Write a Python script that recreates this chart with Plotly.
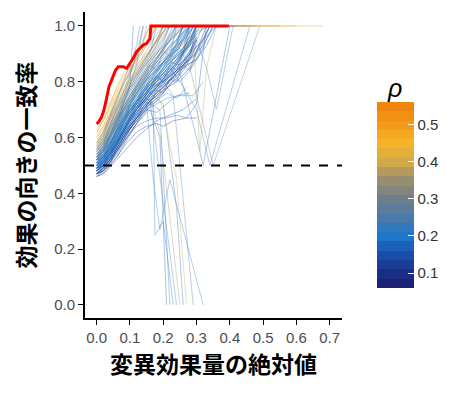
import plotly.graph_objects as go
from plotly.colors import sample_colorscale

# ---- colour scale for rho ----
RHO_MIN, RHO_MAX = 0.06, 0.56
SCALE_RHO = [0.06, 0.10, 0.15, 0.20, 0.25, 0.30, 0.35, 0.40, 0.45, 0.50, 0.56]
SCALE_COL = ["#1B1B6E", "#1A2F85", "#1A4FAA", "#1E78CC", "#4A7AA8", "#727E8A",
             "#9A8E6E", "#D4AA48", "#F7B526", "#F39A17", "#EE7F0A"]
N_BANDS = 20

# ---- individual curves ----
GOLD_RHO = [0.45, 0.42, 0.50, 0.38, 0.40, 0.36, 0.48, 0.44, 0.37, 0.41]
GOLD_X = [
    [0, 0.02, 0.04, 0.06, 0.08, 0.10, 0.12, 0.14, 0.16, 0.18, 0.30],
    [0, 0.02, 0.04, 0.06, 0.08, 0.10, 0.12, 0.15, 0.18, 0.21, 0.38],
    [0, 0.02, 0.04, 0.06, 0.08, 0.10, 0.13, 0.16, 0.19, 0.22, 0.55],
    [0, 0.02, 0.04, 0.06, 0.08, 0.10, 0.13, 0.16, 0.20, 0.24, 0.45],
    [0, 0.03, 0.05, 0.07, 0.09, 0.12, 0.15, 0.18, 0.22, 0.26, 0.68],
    [0, 0.02, 0.04, 0.07, 0.10, 0.13, 0.16, 0.19, 0.23, 0.27],
    [0, 0.02, 0.05, 0.08, 0.11, 0.14, 0.17, 0.20, 0.60],
    [0, 0.03, 0.05, 0.07, 0.09, 0.11, 0.13, 0.15, 0.17],
    [0, 0.03, 0.06, 0.09, 0.12, 0.15, 0.19, 0.23, 0.28, 0.32],
    [0, 0.03, 0.06, 0.09, 0.12, 0.16, 0.20, 0.25, 0.30, 0.34],
]
GOLD_Y = [
    [0.63, 0.66, 0.72, 0.78, 0.82, 0.85, 0.88, 0.92, 0.95, 1.0, 1.0],
    [0.61, 0.64, 0.69, 0.75, 0.79, 0.83, 0.86, 0.90, 0.94, 1.0, 1.0],
    [0.60, 0.63, 0.68, 0.73, 0.78, 0.81, 0.86, 0.91, 0.96, 1.0, 1.0],
    [0.58, 0.61, 0.66, 0.71, 0.76, 0.80, 0.84, 0.88, 0.93, 1.0, 1.0],
    [0.57, 0.62, 0.67, 0.72, 0.77, 0.80, 0.84, 0.90, 0.95, 1.0, 1.0],
    [0.55, 0.58, 0.63, 0.69, 0.75, 0.80, 0.85, 0.90, 0.96, 1.0],
    [0.59, 0.62, 0.69, 0.76, 0.82, 0.87, 0.92, 1.0, 1.0],
    [0.62, 0.68, 0.74, 0.79, 0.83, 0.86, 0.90, 0.93, 1.0],
    [0.52, 0.57, 0.64, 0.70, 0.76, 0.81, 0.85, 0.90, 0.96, 1.0],
    [0.49, 0.53, 0.60, 0.67, 0.72, 0.78, 0.83, 0.89, 0.98, 1.0],
]

BLUE_RHO = [0.20, 0.18, 0.22, 0.16, 0.25, 0.19, 0.21, 0.17, 0.23, 0.15,
            0.24, 0.20, 0.18, 0.26, 0.14, 0.22, 0.19, 0.27, 0.21, 0.17,
            0.30, 0.23, 0.33, 0.10, 0.08, 0.12]
BLUE_X = [
    [0, 0.02, 0.04, 0.06, 0.08, 0.10, 0.12, 0.14, 0.16, 0.18, 0.21, 0.25, 0.28],
    [0, 0.02, 0.04, 0.06, 0.08, 0.10, 0.12, 0.14, 0.17, 0.20, 0.23, 0.27, 0.31],
    [0, 0.02, 0.04, 0.06, 0.08, 0.10, 0.12, 0.14, 0.16, 0.19, 0.22, 0.25],
    [0, 0.02, 0.04, 0.06, 0.08, 0.10, 0.12, 0.14, 0.17, 0.20, 0.24, 0.28, 0.32, 0.35],
    [0, 0.02, 0.04, 0.06, 0.08, 0.10, 0.12, 0.14, 0.16, 0.18, 0.21],
    [0, 0.03, 0.05, 0.07, 0.09, 0.11, 0.13, 0.15, 0.17, 0.19, 0.22, 0.26, 0.30, 0.33],
    [0, 0.02, 0.04, 0.06, 0.08, 0.10, 0.12, 0.14, 0.16, 0.18, 0.20, 0.23, 0.26],
    [0, 0.02, 0.04, 0.06, 0.08, 0.10, 0.12, 0.14, 0.16, 0.19, 0.22, 0.26, 0.30, 0.34],
    [0, 0.02, 0.04, 0.06, 0.08, 0.10, 0.12, 0.14, 0.16, 0.18, 0.20, 0.23, 0.26, 0.42],
    [0, 0.02, 0.04, 0.06, 0.08, 0.10, 0.12, 0.14, 0.16, 0.18, 0.21, 0.24, 0.28, 0.31, 0.36],
    [0, 0.02, 0.04, 0.06, 0.08, 0.10, 0.12, 0.14, 0.16, 0.18],
    [0, 0.03, 0.05, 0.07, 0.09, 0.11, 0.13, 0.15, 0.17, 0.19, 0.21, 0.24, 0.27],
    [0, 0.02, 0.04, 0.06, 0.08, 0.10, 0.12, 0.14, 0.16, 0.18, 0.20, 0.22, 0.25, 0.28, 0.32],
    [0, 0.02, 0.04, 0.06, 0.08, 0.10, 0.12, 0.14, 0.16, 0.18, 0.20, 0.22, 0.40],
    [0, 0.02, 0.04, 0.06, 0.08, 0.10, 0.12, 0.14, 0.16, 0.18, 0.21, 0.24, 0.27, 0.30, 0.33, 0.36],
    [0, 0.02, 0.04, 0.06, 0.08, 0.10, 0.12, 0.14, 0.16, 0.18, 0.20, 0.22, 0.24, 0.27, 0.29],
    [0, 0.02, 0.04, 0.06, 0.08, 0.10, 0.12, 0.14, 0.16, 0.18, 0.20, 0.23, 0.26, 0.29],
    [0, 0.02, 0.04, 0.06, 0.08, 0.10, 0.12, 0.14, 0.16, 0.18, 0.20, 0.23, 0.48],
    [0, 0.02, 0.04, 0.06, 0.08, 0.10, 0.12, 0.14, 0.16, 0.18, 0.20, 0.22, 0.25, 0.28, 0.30],
    [0, 0.02, 0.04, 0.06, 0.08, 0.10, 0.12, 0.14, 0.16, 0.18, 0.20, 0.22, 0.25, 0.28, 0.31, 0.35],
    [0, 0.03, 0.06, 0.08, 0.10, 0.12, 0.14],
    [0, 0.03, 0.06, 0.08, 0.10, 0.11],
    [0, 0.03, 0.05, 0.08, 0.10, 0.12, 0.14, 0.15],
    [0, 0.02, 0.04, 0.06, 0.08, 0.10, 0.12, 0.14, 0.16, 0.18, 0.20, 0.23, 0.26, 0.30, 0.34],
    [0, 0.02, 0.04, 0.06, 0.08, 0.10, 0.12, 0.14, 0.17, 0.20, 0.24, 0.28, 0.33],
    [0, 0.02, 0.04, 0.06, 0.08, 0.10, 0.12, 0.14, 0.16, 0.19, 0.22, 0.25, 0.29],
]
BLUE_Y = [
    [0.52, 0.54, 0.58, 0.63, 0.68, 0.72, 0.76, 0.79, 0.83, 0.87, 0.91, 0.96, 1.0],
    [0.50, 0.52, 0.56, 0.60, 0.65, 0.69, 0.73, 0.76, 0.80, 0.84, 0.88, 0.92, 1.0],
    [0.54, 0.57, 0.61, 0.66, 0.71, 0.75, 0.79, 0.82, 0.86, 0.90, 0.95, 1.0],
    [0.48, 0.50, 0.53, 0.57, 0.62, 0.66, 0.70, 0.73, 0.77, 0.80, 0.84, 0.88, 0.93, 1.0],
    [0.55, 0.58, 0.63, 0.68, 0.73, 0.77, 0.81, 0.85, 0.89, 0.93, 1.0],
    [0.51, 0.55, 0.60, 0.65, 0.69, 0.74, 0.78, 0.81, 0.83, 0.86, 0.88, 0.92, 0.97, 1.0],
    [0.49, 0.51, 0.55, 0.61, 0.66, 0.71, 0.74, 0.77, 0.81, 0.84, 0.87, 0.91, 1.0],
    [0.47, 0.49, 0.52, 0.56, 0.60, 0.64, 0.68, 0.72, 0.75, 0.78, 0.82, 0.86, 0.90, 1.0],
    [0.53, 0.55, 0.60, 0.64, 0.69, 0.73, 0.77, 0.81, 0.84, 0.88, 0.92, 0.96, 1.0, 1.0],
    [0.50, 0.52, 0.55, 0.58, 0.62, 0.67, 0.71, 0.74, 0.77, 0.79, 0.81, 0.85, 0.90, 0.94, 1.0],
    [0.56, 0.59, 0.64, 0.70, 0.74, 0.78, 0.82, 0.86, 0.90, 1.0],
    [0.48, 0.51, 0.55, 0.60, 0.65, 0.70, 0.74, 0.78, 0.82, 0.85, 0.89, 0.93, 1.0],
    [0.52, 0.53, 0.57, 0.62, 0.66, 0.70, 0.72, 0.75, 0.78, 0.82, 0.85, 0.87, 0.86, 0.90, 1.0],
    [0.54, 0.56, 0.61, 0.67, 0.72, 0.76, 0.80, 0.84, 0.88, 0.91, 0.95, 1.0, 1.0],
    [0.46, 0.48, 0.51, 0.55, 0.59, 0.63, 0.67, 0.70, 0.73, 0.76, 0.79, 0.83, 0.86, 0.88, 0.93, 1.0],
    [0.51, 0.53, 0.58, 0.63, 0.67, 0.72, 0.75, 0.79, 0.82, 0.85, 0.87, 0.90, 0.93, 0.96, 1.0],
    [0.49, 0.52, 0.56, 0.59, 0.64, 0.68, 0.72, 0.76, 0.80, 0.83, 0.86, 0.90, 0.94, 1.0],
    [0.53, 0.57, 0.62, 0.66, 0.70, 0.74, 0.78, 0.83, 0.87, 0.90, 0.93, 1.0, 1.0],
    [0.50, 0.53, 0.57, 0.62, 0.67, 0.70, 0.73, 0.77, 0.80, 0.82, 0.84, 0.87, 0.91, 0.95, 1.0],
    [0.48, 0.50, 0.54, 0.58, 0.63, 0.67, 0.70, 0.74, 0.78, 0.80, 0.83, 0.85, 0.80, 0.84, 0.90, 1.0],
    [0.52, 0.58, 0.67, 0.74, 0.82, 0.90, 1.0],
    [0.50, 0.56, 0.65, 0.72, 0.79, 1.0],
    [0.55, 0.61, 0.68, 0.76, 0.83, 0.89, 0.94, 1.0],
    [0.47, 0.48, 0.51, 0.55, 0.59, 0.63, 0.66, 0.70, 0.73, 0.75, 0.78, 0.82, 0.86, 0.91, 1.0],
    [0.48, 0.50, 0.52, 0.56, 0.60, 0.63, 0.67, 0.71, 0.74, 0.77, 0.80, 0.85, 1.0],
    [0.49, 0.51, 0.54, 0.58, 0.62, 0.66, 0.70, 0.73, 0.76, 0.80, 0.84, 0.88, 1.0],
]

# dense core: values on a shared threshold grid (a curve stops where its list stops)
CORE_X = [0, 0.02, 0.04, 0.06, 0.08, 0.10, 0.12, 0.14, 0.16, 0.18,
          0.20, 0.22, 0.24, 0.26, 0.28, 0.30]
CORE_RHO = [0.20, 0.22, 0.18, 0.25, 0.15, 0.21, 0.19, 0.23, 0.17, 0.26,
            0.12, 0.20, 0.28, 0.16, 0.22, 0.10, 0.24, 0.19, 0.32, 0.35,
            0.43, 0.39, 0.21, 0.18, 0.14, 0.23, 0.20, 0.27, 0.17, 0.46,
            0.11, 0.22, 0.30, 0.19, 0.25, 0.13, 0.21, 0.16, 0.24, 0.20,
            0.21, 0.24, 0.17]
CORE_Y = [
    [.47, .49, .53, .57, .62, .66, .69, .73, .76, .78, .81, .84, .86, .89, .93, 1.0],
    [.50, .53, .58, .63, .67, .71, .75, .78, .80, .83, .87, .90, .94, 1.0],
    [.49, .50, .54, .59, .63, .68, .72, .74, .77, .80, .82, .85, .88, .92, 1.0],
    [.53, .56, .61, .66, .71, .75, .79, .83, .87, .90, .94, 1.0],
    [.47, .48, .51, .55, .59, .63, .66, .69, .72, .74, .76, .79, .81, .84, .88, .93],
    [.51, .54, .59, .64, .69, .73, .76, .79, .83, .86, .89, .92, .95, 1.0],
    [.48, .51, .55, .60, .65, .69, .72, .76, .79, .81, .83, .86, .90, .95, 1.0],
    [.52, .55, .60, .66, .70, .74, .78, .82, .85, .88, .92, .97, 1.0],
    [.50, .51, .54, .58, .62, .66, .70, .73, .75, .78, .81, .83, .85, .88, .91, .95],
    [.55, .58, .63, .68, .73, .78, .82, .86, .89, .93, 1.0],
    [.46, .47, .50, .53, .57, .61, .65, .68, .71, .73, .76, .79, .82, .85, .89, 1.0],
    [.49, .52, .57, .61, .66, .70, .74, .77, .81, .84, .87, .89, .92, .96, 1.0],
    [.56, .59, .65, .70, .75, .79, .83, .87, .91, .95, 1.0],
    [.48, .50, .53, .57, .61, .65, .69, .72, .75, .78, .80, .82, .84, .87, .90, .94],
    [.52, .54, .58, .63, .68, .72, .76, .80, .83, .86, .88, .91, .93, .97, 1.0],
    [.47, .48, .51, .54, .58, .62, .65, .69, .72, .74, .77, .80, .83, .86, .90, .95],
    [.51, .55, .60, .65, .70, .74, .78, .81, .84, .88, .91, .95, 1.0],
    [.50, .52, .56, .60, .64, .68, .71, .74, .78, .81, .84, .87, .89, .92, .96, 1.0],
    [.57, .61, .67, .72, .77, .81, .85, .89, .93, .97, 1.0],
    [.58, .62, .68, .74, .79, .83, .87, .91, .95, 1.0],
    [.60, .64, .70, .76, .80, .84, .88, .92, .96, 1.0],
    [.56, .60, .66, .71, .76, .80, .84, .88, .91, .95, 1.0],
    [.49, .51, .55, .59, .64, .67, .71, .74, .77, .79, .82, .85, .88, .91, .93, .97],
    [.51, .53, .56, .61, .65, .69, .73, .76, .79, .82, .85, .88, .91, .95, 1.0],
    [.48, .49, .52, .56, .60, .64, .68, .71, .74, .77, .80, .83, .86, .90, .94, 1.0],
    [.53, .57, .62, .67, .71, .75, .79, .82, .86, .89, .92, .96, 1.0],
    [.50, .52, .56, .61, .65, .69, .73, .75, .78, .80, .82, .84, .87, .90, .94, .97],
    [.54, .57, .63, .68, .72, .77, .81, .85, .88, .92, .96, 1.0],
    [.49, .51, .54, .58, .63, .67, .70, .74, .77, .80, .83, .86, .88, .90, .93, .96],
    [.62, .66, .72, .78, .83, .87, .90, .94, 1.0],
    [.47, .49, .52, .56, .60, .64, .67, .70, .73, .76, .78, .81, .84, .87, .91, .96],
    [.51, .53, .57, .62, .67, .71, .74, .78, .82, .85, .87, .89, .92, .95, .98, 1.0],
    [.54, .58, .64, .69, .74, .79, .83, .87, .91, .95, .98, 1.0],
    [.48, .50, .54, .59, .63, .67, .71, .75, .78, .81, .85, .88, .92, .96, 1.0],
    [.52, .55, .60, .64, .69, .73, .77, .81, .84, .87, .90, .93, .97, 1.0],
    [.49, .50, .53, .57, .61, .65, .69, .72, .75, .78, .81, .84, .87, .91, .95, 1.0],
    [.50, .53, .57, .62, .66, .70, .73, .77, .80, .82, .80, .83, .86, .90, .95, 1.0],
    [.47, .49, .52, .56, .60, .64, .67, .71, .74, .76, .79, .82, .84, .86, .89, .93],
    [.53, .56, .61, .65, .70, .74, .77, .80, .84, .87, .90, .93, .95, .98, 1.0],
    [.49, .51, .55, .60, .65, .69, .72, .76, .79, .82, .85, .89, .93, 1.0],
    [.50, .53, .56, .62, .65, .71, .73, .78, .76, .82, .80, .86, .84, .90, 1.0],
    [.53, .55, .61, .64, .70, .72, .78, .80, .86, .84, .91, .89, 1.0],
    [.48, .51, .53, .58, .61, .66, .68, .73, .72, .77, .76, .81, .80, .86, .84, .90],
]

# lower, flattening curves
LOW_RHO = [0.18, 0.20, 0.15, 0.22, 0.25, 0.12, 0.19, 0.28, 0.33, 0.20]
LOW_X = [
    [0, 0.03, 0.06, 0.09, 0.12, 0.15, 0.18, 0.21, 0.24, 0.27, 0.30, 0.33],
    [0, 0.03, 0.06, 0.09, 0.12, 0.15, 0.18, 0.21, 0.25, 0.29, 0.32],
    [0, 0.03, 0.06, 0.09, 0.12, 0.15, 0.18, 0.22, 0.26, 0.30],
    [0, 0.03, 0.06, 0.09, 0.12, 0.15, 0.18, 0.21, 0.24, 0.27],
    [0, 0.03, 0.06, 0.09, 0.12, 0.15, 0.17, 0.20, 0.23, 0.26, 0.30, 0.34],
    [0, 0.03, 0.06, 0.09, 0.12, 0.15, 0.18, 0.20, 0.23, 0.27, 0.30],
    [0, 0.03, 0.06, 0.09, 0.12, 0.15, 0.18, 0.21, 0.24, 0.28],
    [0, 0.02, 0.04, 0.06, 0.08, 0.10, 0.12, 0.13],
    [0, 0.02, 0.04, 0.06, 0.08, 0.10, 0.12, 0.14, 0.16],
    [0, 0.03, 0.06, 0.09, 0.12, 0.14],
]
LOW_Y = [
    [0.47, 0.50, 0.55, 0.60, 0.64, 0.66, 0.67, 0.67, 0.68, 0.67, 0.72, 1.0],
    [0.48, 0.52, 0.57, 0.62, 0.66, 0.70, 0.72, 0.74, 0.75, 0.75, 0.80],
    [0.46, 0.48, 0.52, 0.56, 0.60, 0.63, 0.66, 0.68, 0.70, 0.74],
    [0.50, 0.54, 0.59, 0.63, 0.67, 0.71, 0.73, 0.76, 0.74, 0.78],
    [0.51, 0.56, 0.62, 0.68, 0.73, 0.76, 0.79, 0.78, 0.82, 0.85, 0.88, 1.0],
    [0.47, 0.49, 0.53, 0.58, 0.62, 0.64, 0.65, 0.64, 0.66, 0.67, 0.67],
    [0.49, 0.53, 0.58, 0.63, 0.67, 0.70, 0.69, 0.72, 0.75, 0.76],
    [0.56, 0.60, 0.67, 0.73, 0.80, 0.86, 0.93, 1.0],
    [0.58, 0.62, 0.68, 0.74, 0.79, 0.84, 0.89, 0.95, 1.0],
    [0.52, 0.58, 0.66, 0.75, 0.86, 1.0],
]

# curves that collapse towards 0 or dip back to 0.5
DROP_RHO = [0.20, 0.18, 0.24, 0.36, 0.21, 0.16, 0.22, 0.40, 0.19,
            0.22, 0.30, 0.18, 0.38, 0.24]
DROP_X = [
    [0, 0.04, 0.08, 0.12, 0.16, 0.19, 0.22],
    [0, 0.04, 0.08, 0.12, 0.16, 0.20, 0.24, 0.26],
    [0, 0.04, 0.08, 0.12, 0.16, 0.20, 0.23, 0.29],
    [0, 0.04, 0.08, 0.12, 0.16, 0.19, 0.25],
    [0, 0.04, 0.08, 0.12, 0.15, 0.17, 0.19, 0.22, 0.32],
    [0, 0.04, 0.08, 0.12, 0.16, 0.19, 0.21],
    [0, 0.04, 0.08, 0.12, 0.16, 0.18, 0.20, 0.24],
    [0, 0.04, 0.08, 0.12, 0.16, 0.20, 0.24, 0.27],
    [0, 0.04, 0.08, 0.12, 0.15, 0.17, 0.175, 0.20, 0.23],
    [0, 0.05, 0.10, 0.15, 0.20, 0.25, 0.30, 0.34, 0.40, 0.46],
    [0, 0.05, 0.10, 0.15, 0.20, 0.25, 0.28, 0.35, 0.49],
    [0, 0.05, 0.10, 0.15, 0.20, 0.25, 0.30, 0.32, 0.40],
    [0, 0.05, 0.10, 0.15, 0.20, 0.25, 0.29, 0.31, 0.33, 0.36],
    [0, 0.05, 0.10, 0.15, 0.20, 0.25, 0.30, 0.33, 0.36, 0.41],
]
DROP_Y = [
    [0.48, 0.53, 0.61, 0.68, 0.72, 0.70, 0.0],
    [0.50, 0.55, 0.62, 0.70, 0.76, 0.72, 0.35, 0.0],
    [0.52, 0.58, 0.66, 0.72, 0.78, 0.80, 0.75, 0.0],
    [0.55, 0.61, 0.69, 0.75, 0.74, 0.62, 0.0],
    [0.49, 0.54, 0.63, 0.69, 0.72, 0.45, 0.27, 0.45, 0.0],
    [0.47, 0.52, 0.58, 0.65, 0.70, 0.60, 0.0],
    [0.51, 0.56, 0.64, 0.71, 0.74, 0.55, 0.38, 0.0],
    [0.56, 0.63, 0.71, 0.77, 0.82, 0.70, 0.45, 0.0],
    [0.50, 0.56, 0.63, 0.70, 0.74, 0.72, 0.25, 0.30, 0.0],
    [0.50, 0.58, 0.70, 0.78, 0.83, 0.80, 0.70, 0.50, 0.75, 1.0],
    [0.53, 0.62, 0.74, 0.82, 0.88, 0.92, 0.85, 0.50, 1.0],
    [0.49, 0.56, 0.67, 0.75, 0.79, 0.83, 0.60, 0.50, 1.0],
    [0.57, 0.66, 0.77, 0.85, 0.90, 0.94, 0.97, 0.55, 0.85, 1.0],
    [0.52, 0.60, 0.72, 0.80, 0.86, 0.90, 0.95, 0.85, 0.70, 1.0],
]

# ---- highlighted (red) curve ----
RED_X = [0.0, 0.007, 0.015, 0.022, 0.030, 0.037, 0.047, 0.057, 0.065, 0.080,
         0.090, 0.100, 0.110, 0.120, 0.130, 0.140, 0.150, 0.160, 0.163, 0.397]
RED_Y = [0.649, 0.657, 0.675, 0.699, 0.741, 0.782, 0.812, 0.842, 0.854, 0.854,
         0.848, 0.866, 0.884, 0.908, 0.920, 0.932, 0.938, 0.955, 1.0, 1.0]

THRESHOLD = 0.5
X_TICKS = [0.0, 0.1, 0.2, 0.3, 0.4, 0.5, 0.6, 0.7]
Y_TICKS = [0.0, 0.2, 0.4, 0.6, 0.8, 1.0]
CB_TICKS = [0.1, 0.2, 0.3, 0.4, 0.5]

colorscale = [[(r - RHO_MIN) / (RHO_MAX - RHO_MIN), c] for r, c in zip(SCALE_RHO, SCALE_COL)]

# stepped version for the colour bar (ggplot-like banding)
band_cols = sample_colorscale(colorscale, [(i + 0.5) / N_BANDS for i in range(N_BANDS)])
stepped = []
for i, c in enumerate(band_cols):
    stepped.append([i / N_BANDS, c])
    stepped.append([(i + 1) / N_BANDS, c])


def rho_color(r):
    return sample_colorscale(colorscale, [(r - RHO_MIN) / (RHO_MAX - RHO_MIN)])[0]


fig = go.Figure()


def add_curve(r, xs, ys, op):
    fig.add_trace(go.Scatter(x=xs, y=ys, mode="lines",
                             line=dict(color=rho_color(r), width=1.0),
                             opacity=op, hoverinfo="skip", showlegend=False))


for r, xs, ys in zip(GOLD_RHO, GOLD_X, GOLD_Y):
    add_curve(r, xs, ys, 0.45)
for r, ys in zip(CORE_RHO, CORE_Y):
    add_curve(r, CORE_X[:len(ys)], ys, 0.4)
for r, xs, ys in zip(LOW_RHO, LOW_X, LOW_Y):
    add_curve(r, xs, ys, 0.4)
for r, xs, ys in zip(BLUE_RHO, BLUE_X, BLUE_Y):
    add_curve(r, xs, ys, 0.4)
for r, xs, ys in zip(DROP_RHO, DROP_X, DROP_Y):
    add_curve(r, xs, ys, 0.35)

fig.add_trace(go.Scatter(x=RED_X, y=RED_Y, mode="lines",
                         line=dict(color="#FF0000", width=3),
                         showlegend=False, hoverinfo="skip"))

# colourbar carrier
fig.add_trace(go.Scatter(
    x=[None], y=[None], mode="markers", showlegend=False, hoverinfo="skip",
    marker=dict(color=[RHO_MIN, RHO_MAX], cmin=RHO_MIN, cmax=RHO_MAX,
                colorscale=stepped, showscale=True,
                colorbar=dict(
                    tickvals=CB_TICKS, ticktext=[f"{v:.1f}" for v in CB_TICKS],
                    ticks="inside", ticklen=6, tickcolor="white", tickwidth=1,
                    tickfont=dict(size=15, color="#333333", family="Liberation Sans"),
                    thickness=37, lenmode="pixels", len=186,
                    x=1.136, xanchor="left", y=0.098, yanchor="bottom",
                    outlinewidth=0, xpad=0, ypad=0))))

fig.add_annotation(text="<i>ρ</i>", xref="paper", yref="paper", x=1.206, y=0.752,
                   xanchor="center", yanchor="middle", showarrow=False,
                   font=dict(size=25, color="black", family="Liberation Sans"))

fig.add_shape(type="line", xref="paper", x0=0, x1=1, yref="y", y0=THRESHOLD, y1=THRESHOLD,
              line=dict(color="black", width=2, dash="dash"))

fig.update_layout(
    width=462, height=386,
    margin=dict(l=77, r=128, t=4, b=76),
    paper_bgcolor="white", plot_bgcolor="white",
    font=dict(family="Liberation Sans", color="black"),
    xaxis=dict(range=[-0.035, 0.737], tickvals=X_TICKS, automargin=False,
               ticktext=[f"{v:.1f}" for v in X_TICKS],
               showgrid=False, zeroline=False, showline=True, linecolor="black", linewidth=1.8,
               ticks="outside", ticklen=5, tickwidth=1.3, tickcolor="black",
               tickfont=dict(size=15, color="#4D4D4D"),
               title=dict(text="変異効果量の絶対値", standoff=7,
                          font=dict(size=23, family="Noto Sans CJK JP", color="black",
                                    weight="bold"))),
    yaxis=dict(range=[-0.047, 1.05], tickvals=Y_TICKS, automargin=False,
               ticktext=[f"{v:.1f}" for v in Y_TICKS],
               showgrid=False, zeroline=False, showline=True, linecolor="black", linewidth=1.8,
               ticks="outside", ticklen=5, tickwidth=1.3, tickcolor="black",
               tickfont=dict(size=15, color="#4D4D4D"),
               title=dict(text="効果の向きの一致率", standoff=25,
                          font=dict(size=23, family="Noto Sans CJK JP", color="black",
                                    weight="bold"))),
)

fig.write_html("out.html")
